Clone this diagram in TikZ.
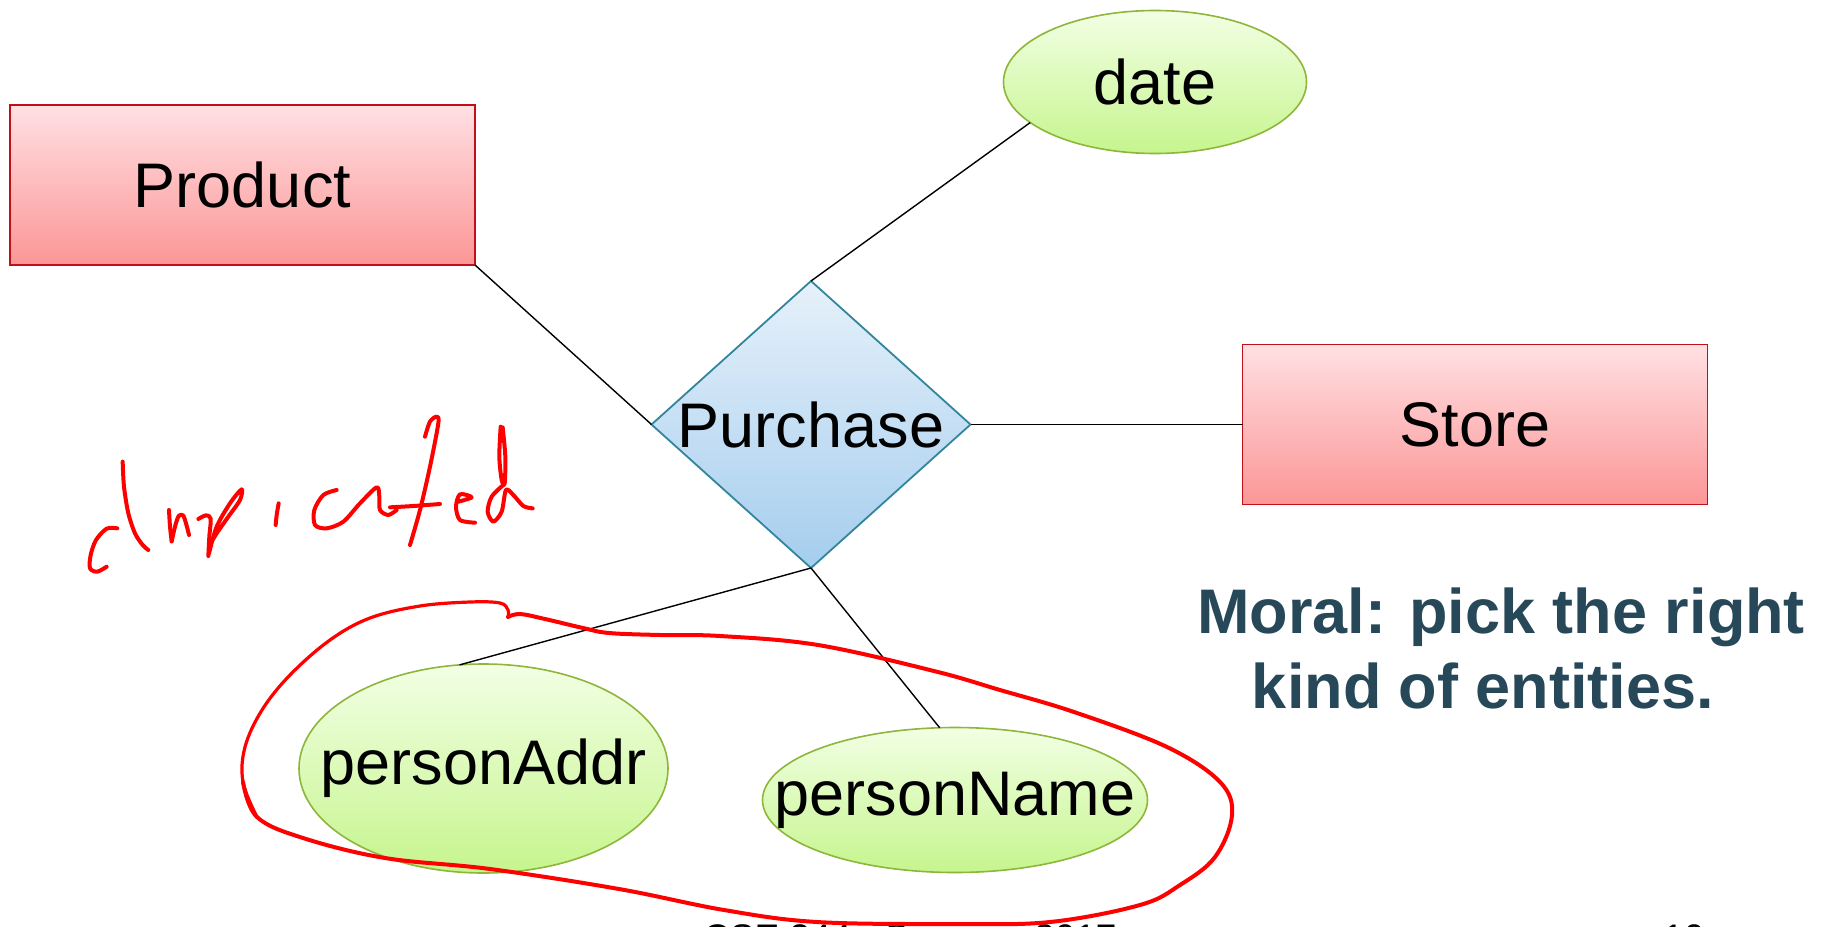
\documentclass[tikz,border=0pt]{standalone}
\usepackage{fontspec}
\setmainfont{Liberation Sans}
\usetikzlibrary{shapes.geometric}

\definecolor{entborder}{HTML}{C0101A}
\definecolor{enttop}{HTML}{FFE0E3}
\definecolor{entbot}{HTML}{FC9696}
\definecolor{relborder}{HTML}{31859C}
\definecolor{reltop}{HTML}{E6F1FA}
\definecolor{relbot}{HTML}{A5CDEE}
\definecolor{attborder}{HTML}{8DB63A}
\definecolor{atttop}{HTML}{F2FFE4}
\definecolor{attbot}{HTML}{C6F58E}
\definecolor{moral}{HTML}{264858}
\definecolor{ink}{HTML}{FF0000}

\tikzset{
  entity/.style={rectangle, draw=entborder, line width=1.8pt, top color=enttop, bottom color=entbot,
                 minimum width=465pt, minimum height=160pt, inner sep=0pt, outer sep=0pt},
  relation/.style={diamond, draw=relborder, line width=1.8pt, top color=reltop, bottom color=relbot,
                 minimum width=319pt, minimum height=287pt, inner sep=0pt, outer sep=0pt},
  attribute/.style={ellipse, draw=attborder, line width=1.6pt, top color=atttop, bottom color=attbot,
                 inner sep=0pt, outer sep=0pt},
  link/.style={draw=black, line width=1.4pt},
  pen/.style={draw=ink, line width=4pt, line cap=round, line join=round},
  thinpen/.style={pen, line width=3.2pt},
  lbl/.style={font=\fontsize{63}{70}\selectfont, text=black, inner sep=0pt},
  moraltext/.style={font=\fontsize{63}{75}\selectfont\bfseries, text=moral, inner sep=0pt, anchor=base},
  footer/.style={font=\fontsize{37}{40}\selectfont, text=black, inner sep=0pt, anchor=base west}
}

\begin{document}
\begin{tikzpicture}[x=1pt, y=-1pt]
  \useasboundingbox (0,0) rectangle (1830,926);
  \clip (0,0) rectangle (1830,926);

  % entities
  \node[entity] (product) at (242.5,185) {};
  \node[lbl] at (product) {Product};
  \node[entity] (store) at (1475,424.5) {};
  \node[lbl] at (store) {Store};

  % relationship
  \node[relation] (purchase) at (811,424.5) {};
  \node[lbl] at (purchase) {Purchase};

  % attributes
  \node[attribute, minimum width=303pt, minimum height=143pt] (date) at (1155,82) {};
  \node[lbl] at (date) {date};
  \node[attribute, minimum width=369pt, minimum height=209pt] (paddr) at (483.5,768.5) {};
  \node[lbl] at (paddr) {personAddr};
  \node[attribute, minimum width=385pt, minimum height=145pt] (pname) at (955,800) {};
  \node[lbl] at (pname) {personName};

  % connectors
  \draw[link] (product.south east) -- (purchase.west);
  \draw[link] (purchase.north) -- (date.198);
  \draw[link] (purchase.east) -- (store.west);
  \draw[link] (purchase.south) -- (paddr.103);
  \draw[link] (purchase.south) -- (pname.102);

  % moral
  \node[moraltext] (moral1) at (1501,633) {Moral: pick the right};
  \node[moraltext] (moral2) at (1483,708) {kind of entities.};

  % footer
  \node[footer] (foot) at (703,950) {CSE 344 - Summer 2017};
  \node[footer] (page) at (1663,950) {10};

  % hand-drawn loop round the two person attributes
  \draw[pen] plot[smooth, tension=0.6] coordinates {
    (508,617) (520,614) (545,619) (583,628) (609,633) (660,635) (720,636)
    (818,645) (934,671) (1000,690) (1074,712) (1167,747) (1220,782)
    (1232,815) (1215,857) (1180,885) (1140,905) (1050,922) (954,924)
    (817,922) (724,910) (619,889) (490,869) (385,858) (303,838)
    (257,817) (243,782)};
  \draw[thinpen] plot[smooth, tension=0.6] coordinates {
    (257,817) (243,782) (245,747) (262,710) (290,675) (330,640)
    (370,618) (420,606) (470,602) (500,603) (508,610) (508,617)};

  % handwritten word
  \begin{scope}[shift={(60,400)}, scale=1/3]
    \draw[pen] plot[smooth] coordinates {(172,385) (140,386) (108,420) (92,465) (90,505) (112,515) (140,500)};
    \draw[pen] plot[smooth] coordinates {(188,185) (192,260) (205,340) (225,400) (248,435) (265,450)};
    \draw[pen] plot[smooth] coordinates {(327,330) (330,380) (335,424)};
    \draw[pen] plot[smooth] coordinates {(335,424) (345,380) (356,348) (369,346) (378,370) (387,405)};
    \draw[pen] plot[smooth] coordinates {(415,357) (438,346) (452,356) (448,410) (445,468)};
    \draw[pen] plot[smooth] coordinates {(447,460) (470,380) (510,310) (545,268) (540,300) (505,350) (470,400) (452,430)};
    \draw[pen] plot[smooth] coordinates {(656,310) (650,345) (647,375)};
    \draw[pen] plot[smooth] coordinates {(830,270) (790,285) (763,330) (765,375) (800,385) (850,365) (900,310) (950,262) (958,290) (960,330) (985,345) (1010,330)};
    \draw[pen] plot[smooth] coordinates {(990,322) (1060,318) (1140,312)};
    \draw[pen] plot[smooth] coordinates {(1095,110) (1110,65) (1130,50) (1135,70) (1110,200) (1080,330) (1050,435)};
    \draw[pen] plot[smooth] coordinates {(1195,305) (1235,292) (1200,283) (1188,320) (1200,360) (1245,368)};
    \draw[pen] plot[smooth] coordinates {(1322,80) (1318,170) (1325,240) (1334,250) (1336,170) (1328,82)};
    \draw[pen] plot[smooth] coordinates {(1330,255) (1295,290) (1283,335) (1300,365) (1325,335) (1338,270) (1360,285) (1390,318) (1418,325)};
  \end{scope}
\end{tikzpicture}
\end{document}
